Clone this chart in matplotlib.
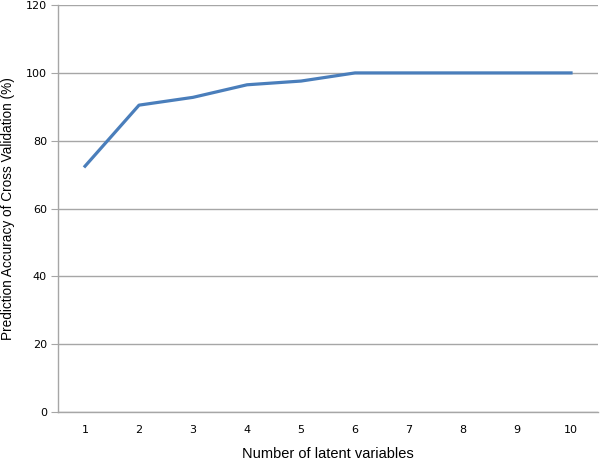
import matplotlib
matplotlib.use('Agg')

import matplotlib.pyplot as plt

# Number of latent variables vs. prediction accuracy
latent_vars = [1, 2, 3, 4, 5, 6, 7, 8, 9, 10]
accuracy = [72.5, 90.5, 92.8, 96.5, 97.6, 100, 100, 100, 100, 100]
y_ticks = [0, 20, 40, 60, 80, 100, 120]

fig = plt.figure(figsize=(6, 4.62), dpi=100, facecolor="white")
ax = fig.add_axes([0.0967, 0.108, 0.9, 0.881])

ax.plot(latent_vars, accuracy, color="#4a7ebb", linewidth=2.3, solid_joinstyle="round")

ax.set_xlim(0.5, 10.5)
ax.set_ylim(0, 120)
ax.set_yticks(y_ticks)
ax.set_xticks(latent_vars)

# Gray horizontal gridlines only
ax.yaxis.grid(True, color="#a6a6a6", linewidth=1)
ax.set_axisbelow(True)

for side in ["top", "right"]:
    ax.spines[side].set_visible(False)
for side in ["left", "bottom"]:
    ax.spines[side].set_color("#a6a6a6")
    ax.spines[side].set_linewidth(1)

ax.tick_params(axis="y", length=5, color="#a6a6a6", pad=3)
ax.tick_params(axis="x", length=0, pad=9.5)
for lbl in ax.get_xticklabels() + ax.get_yticklabels():
    lbl.set_family("DejaVu Sans")
    lbl.set_fontsize(8)

ax.set_xlabel("Number of latent variables", fontsize=10.5, family="Liberation Sans")
ax.set_ylabel("Prediction Accuracy of Cross Validation (%)", fontsize=9.8, family="Liberation Sans")
ax.xaxis.set_label_coords(0.5, -0.086)
ax.yaxis.set_label_coords(-0.08, 0.5)

fig.savefig("out.png", dpi=100)
plt.close(fig)
